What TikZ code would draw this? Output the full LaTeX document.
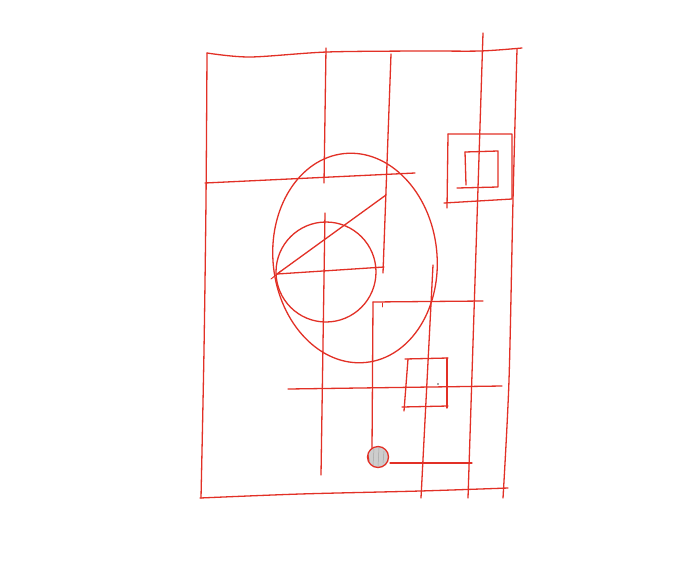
\documentclass[tikz,border=0pt]{standalone}
\definecolor{pen}{RGB}{226,48,38}
\definecolor{lead}{RGB}{205,205,205}
\begin{document}
\begin{tikzpicture}[x=1pt,y=-1pt,
  ink/.style={draw=pen,line width=1.3pt,line cap=round,line join=round},
  thin ink/.style={draw=pen,line width=0.9pt,line cap=round}]
\useasboundingbox[fill=white] (0,0) rectangle (700,560);
% outer frame
\draw[ink] plot[smooth] coordinates {(207,53) (250,57) (327,52) (420,51) (480,51) (522,48)};
\draw[ink] plot[smooth] coordinates {(207,53) (206,200) (204,350) (201,498)};
\draw[ink] plot[smooth] coordinates {(200,498) (300,494) (420,491) (508,488)};
\draw[ink] plot[smooth] coordinates {(517,49) (513,200) (509,380) (503,498)};
% verticals
\draw[ink] (326,48) -- (324,183);
\draw[ink] (325,213) -- (321,475);
\draw[ink] (391,54) -- (383,273);
\draw[ink] (483,33) -- (468,498);
\draw[ink] (433,265) -- (421,498);
\draw[ink] (373,302) -- (372,450);
% horizontals
\draw[ink] (205,183) -- (415,173);
\draw[ink] (373,302) -- (483,301);
\draw[thin ink] (382,303) -- (382,307);
\draw[ink] (288,389) -- (502,386);
\draw[ink] (390,463) -- (472,463);
% big egg
\draw[ink,rotate around={6:(355,258)}] (355,258) ellipse [x radius=82pt, y radius=105pt];
% small circle
\draw[ink] (326,272) circle [radius=50pt];
% chords from left point
\draw[ink] (277,274) -- (384,267);
\draw[ink] (277,274) -- (386,195);
\draw[thin ink] (271,279) -- (281,271);
% top-right squares
\draw[ink] (448,134) -- (512,134) -- (512,199) -- (444,203);
\draw[ink] (448,134) -- (447,208);
\draw[ink] (465,152) -- (498,151) -- (498,187) -- (457,188);
\draw[ink] (465,152) -- (466,185);
% lower small square
\draw[ink] (405,359) -- (448,358);
\draw[ink] (408,359) -- (404,411);
\draw[ink] (447,358) -- (447,408);
\draw[ink] (402,407) -- (448,406);
\fill[black!70] (438,384) circle (0.8);
% small shaded circle
\fill[lead] (378,457) circle (10.5);
\draw[black!35,line width=0.5pt] (374,449) -- (373,465) (379,448) -- (378,466) (384,451) -- (383,463);
\draw[ink] (378,457) circle (10.5);
\draw[thin ink] (368,455) -- (369,461);
\end{tikzpicture}
\end{document}
